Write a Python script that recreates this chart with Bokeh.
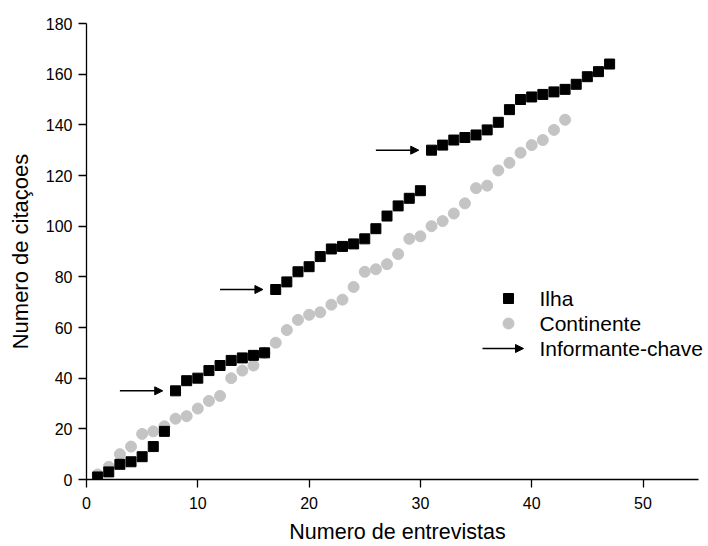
from bokeh.plotting import figure
from bokeh.models import Range1d, ColumnDataSource, Arrow, NormalHead, Label
from bokeh.embed import file_html
from bokeh.resources import INLINE

# ---- data ----
ilha_x = list(range(1, 48))
ilha_y = [1, 3, 6, 7, 9, 13, 19, 35, 39, 40, 43, 45, 47, 48, 49, 50,
          75, 78, 82, 84, 88, 91, 92, 93, 95, 99, 104, 108, 111, 114,
          130, 132, 134, 135, 136, 138, 141, 146, 150, 151, 152, 153, 154, 156, 159, 161, 164]
cont_x = list(range(1, 44))
cont_y = [2, 5, 10, 13, 18, 19, 21, 24, 25, 28, 31, 33, 40, 43, 45, 50,
          54, 59, 63, 65, 66, 69, 71, 76, 82, 83, 85, 89, 95, 96,
          100, 102, 105, 109, 115, 116, 122, 125, 129, 132, 134, 138, 142]
key_x = [8, 17, 31]
key_y = [35, 75, 130]
x_ticks = [0, 10, 20, 30, 40, 50]
y_ticks = [0, 20, 40, 60, 80, 100, 120, 140, 160, 180]
legend_labels = ["Ilha", "Continente", "Informante-chave"]
x_title = "Numero de entrevistas"
y_title = "Numero de citaçoes"

FONT = "Liberation Sans"
SQ_COLOR = "#000000"
CI_COLOR = "#c4c4c4"

W, H = 708, 546
LEFT, TOP, BOTTOM = 86, 23, 67
XMAX_AXIS = 55
sx = 11.13  # px per x unit
x_end = (W - LEFT) / sx

p = figure(width=W, height=H, output_backend="svg", toolbar_location=None,
           x_range=Range1d(0, x_end), y_range=Range1d(0, 180),
           min_border_left=LEFT, min_border_right=0,
           min_border_top=TOP, min_border_bottom=BOTTOM)
p.outline_line_color = None
p.xgrid.visible = False
p.ygrid.visible = False
p.background_fill_color = "white"
p.border_fill_color = "white"

for ax in (p.xaxis[0], p.yaxis[0]):
    ax.axis_line_color = "black"
    ax.axis_line_width = 1.3
    ax.major_tick_line_color = "black"
    ax.minor_tick_line_color = "black"
    ax.major_tick_line_width = 1.3
    ax.minor_tick_line_width = 1.3
    ax.major_tick_in = 0
    ax.major_tick_out = 8
    ax.minor_tick_in = 0
    ax.minor_tick_out = 4
    ax.major_label_text_font = FONT
    ax.major_label_text_font_size = "16px"
    ax.major_label_text_color = "black"
    ax.axis_label_text_font = FONT
    ax.axis_label_text_font_style = "normal"
    ax.axis_label_text_color = "black"

p.xaxis.bounds = (0, XMAX_AXIS)
p.xaxis.ticker = x_ticks
p.xaxis.ticker.num_minor_ticks = 2
p.yaxis.ticker = y_ticks
p.yaxis.ticker.num_minor_ticks = 2
p.xaxis.major_label_standoff = 9
p.yaxis.major_label_standoff = 6
p.xaxis.axis_label = x_title
p.yaxis.axis_label = y_title
p.xaxis.axis_label_text_font_size = "21.5px"
p.yaxis.axis_label_text_font_size = "22px"
p.xaxis.axis_label_standoff = 8
p.yaxis.axis_label_standoff = 10

# series
src_c = ColumnDataSource(dict(x=cont_x, y=cont_y))
src_i = ColumnDataSource(dict(x=ilha_x, y=ilha_y))
p.scatter("x", "y", source=src_c, marker="circle", size=11,
          fill_color=CI_COLOR, line_color=CI_COLOR)
p.scatter("x", "y", source=src_i, marker="square", size=10,
          fill_color=SQ_COLOR, line_color=SQ_COLOR)

# key-informant arrows
arr_src = ColumnDataSource(dict(
    xs=[k - 5 for k in key_x], xe=[k - 1.15 for k in key_x],
    ys=key_y, ye=key_y))
p.add_layout(Arrow(source=arr_src, x_start="xs", y_start="ys", x_end="xe", y_end="ye",
                   line_color="black", line_width=1.5,
                   end=NormalHead(size=8, fill_color="black", line_color="black")))

# legend (positioned in canvas pixels, converted to data units)
FB = H - BOTTOM
sy = (H - TOP - BOTTOM) / 180.0
def dx(px):
    return (px - LEFT) / sx
def dy(py):
    return (FB - py) / sy

leg_rows = [298, 323, 348]
p.scatter([dx(508)], [dy(leg_rows[0])], marker="square", size=10,
          fill_color=SQ_COLOR, line_color=SQ_COLOR)
p.scatter([dx(508)], [dy(leg_rows[1])], marker="circle", size=11,
          fill_color=CI_COLOR, line_color=CI_COLOR)
p.add_layout(Arrow(x_start=dx(482), y_start=dy(leg_rows[2]), x_end=dx(523), y_end=dy(leg_rows[2]),
                   line_color="black", line_width=1.5,
                   end=NormalHead(size=8, fill_color="black", line_color="black")))
for txt, row in zip(legend_labels, leg_rows):
    p.add_layout(Label(x=dx(539), y=dy(row), text=txt,
                       text_font=FONT, text_font_size="21px", text_color="black",
                       text_baseline="middle", text_align="left"))

open("out.html", "w").write(file_html(p, INLINE))
